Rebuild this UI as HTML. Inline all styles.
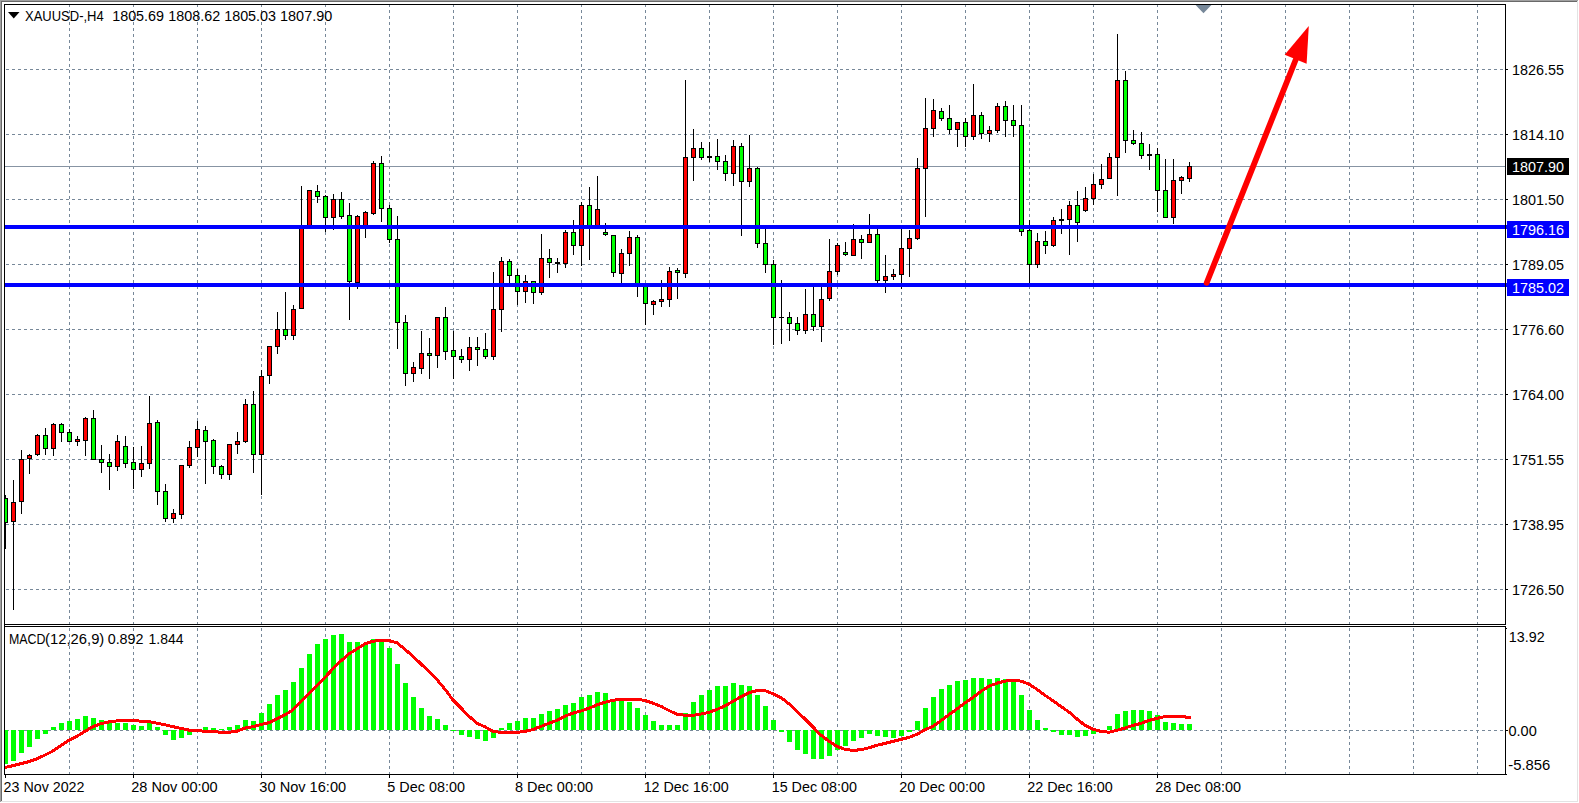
<!DOCTYPE html><html><head><meta charset="utf-8"><title>XAUUSD H4</title>
<style>html,body{margin:0;padding:0;background:#fff;overflow:hidden}svg{display:block}text{font-family:"Liberation Sans",sans-serif;font-size:14px;fill:#000}</style></head><body>
<svg width="1579" height="803" viewBox="0 0 1579 803">
<rect x="0" y="0" width="1579" height="803" fill="#fff"/>
<g shape-rendering="crispEdges">
<rect x="1577" y="1" width="1" height="801" fill="#e3e3e3"/><rect x="1" y="801" width="1577" height="1" fill="#e3e3e3"/>
<rect x="0" y="0" width="1578" height="1" fill="#a0a0a0"/><rect x="1" y="1" width="1576" height="1" fill="#696969"/>
<rect x="0" y="0" width="1" height="802" fill="#a0a0a0"/><rect x="1" y="1" width="1" height="800" fill="#696969"/>
<line x1="69.5" y1="4" x2="69.5" y2="774" stroke="#778899" stroke-width="1" stroke-dasharray="3,3"/>
<line x1="133.5" y1="4" x2="133.5" y2="774" stroke="#778899" stroke-width="1" stroke-dasharray="3,3"/>
<line x1="197.5" y1="4" x2="197.5" y2="774" stroke="#778899" stroke-width="1" stroke-dasharray="3,3"/>
<line x1="261.5" y1="4" x2="261.5" y2="774" stroke="#778899" stroke-width="1" stroke-dasharray="3,3"/>
<line x1="325.5" y1="4" x2="325.5" y2="774" stroke="#778899" stroke-width="1" stroke-dasharray="3,3"/>
<line x1="389.5" y1="4" x2="389.5" y2="774" stroke="#778899" stroke-width="1" stroke-dasharray="3,3"/>
<line x1="453.5" y1="4" x2="453.5" y2="774" stroke="#778899" stroke-width="1" stroke-dasharray="3,3"/>
<line x1="517.5" y1="4" x2="517.5" y2="774" stroke="#778899" stroke-width="1" stroke-dasharray="3,3"/>
<line x1="581.5" y1="4" x2="581.5" y2="774" stroke="#778899" stroke-width="1" stroke-dasharray="3,3"/>
<line x1="645.5" y1="4" x2="645.5" y2="774" stroke="#778899" stroke-width="1" stroke-dasharray="3,3"/>
<line x1="709.5" y1="4" x2="709.5" y2="774" stroke="#778899" stroke-width="1" stroke-dasharray="3,3"/>
<line x1="773.5" y1="4" x2="773.5" y2="774" stroke="#778899" stroke-width="1" stroke-dasharray="3,3"/>
<line x1="837.5" y1="4" x2="837.5" y2="774" stroke="#778899" stroke-width="1" stroke-dasharray="3,3"/>
<line x1="901.5" y1="4" x2="901.5" y2="774" stroke="#778899" stroke-width="1" stroke-dasharray="3,3"/>
<line x1="965.5" y1="4" x2="965.5" y2="774" stroke="#778899" stroke-width="1" stroke-dasharray="3,3"/>
<line x1="1029.5" y1="4" x2="1029.5" y2="774" stroke="#778899" stroke-width="1" stroke-dasharray="3,3"/>
<line x1="1093.5" y1="4" x2="1093.5" y2="774" stroke="#778899" stroke-width="1" stroke-dasharray="3,3"/>
<line x1="1157.5" y1="4" x2="1157.5" y2="774" stroke="#778899" stroke-width="1" stroke-dasharray="3,3"/>
<line x1="1221.5" y1="4" x2="1221.5" y2="774" stroke="#778899" stroke-width="1" stroke-dasharray="3,3"/>
<line x1="1285.5" y1="4" x2="1285.5" y2="774" stroke="#778899" stroke-width="1" stroke-dasharray="3,3"/>
<line x1="1349.5" y1="4" x2="1349.5" y2="774" stroke="#778899" stroke-width="1" stroke-dasharray="3,3"/>
<line x1="1413.5" y1="4" x2="1413.5" y2="774" stroke="#778899" stroke-width="1" stroke-dasharray="3,3"/>
<line x1="1477.5" y1="4" x2="1477.5" y2="774" stroke="#778899" stroke-width="1" stroke-dasharray="3,3"/>
<line x1="6" y1="69.5" x2="1505" y2="69.5" stroke="#778899" stroke-width="1" stroke-dasharray="3,3"/>
<rect x="1506" y="69" width="2" height="1" fill="#000"/>
<line x1="6" y1="134.5" x2="1505" y2="134.5" stroke="#778899" stroke-width="1" stroke-dasharray="3,3"/>
<rect x="1506" y="134" width="2" height="1" fill="#000"/>
<line x1="6" y1="199.5" x2="1505" y2="199.5" stroke="#778899" stroke-width="1" stroke-dasharray="3,3"/>
<rect x="1506" y="199" width="2" height="1" fill="#000"/>
<line x1="6" y1="264.5" x2="1505" y2="264.5" stroke="#778899" stroke-width="1" stroke-dasharray="3,3"/>
<rect x="1506" y="264" width="2" height="1" fill="#000"/>
<line x1="6" y1="329.5" x2="1505" y2="329.5" stroke="#778899" stroke-width="1" stroke-dasharray="3,3"/>
<rect x="1506" y="329" width="2" height="1" fill="#000"/>
<line x1="6" y1="394.5" x2="1505" y2="394.5" stroke="#778899" stroke-width="1" stroke-dasharray="3,3"/>
<rect x="1506" y="394" width="2" height="1" fill="#000"/>
<line x1="6" y1="459.5" x2="1505" y2="459.5" stroke="#778899" stroke-width="1" stroke-dasharray="3,3"/>
<rect x="1506" y="459" width="2" height="1" fill="#000"/>
<line x1="6" y1="524.5" x2="1505" y2="524.5" stroke="#778899" stroke-width="1" stroke-dasharray="3,3"/>
<rect x="1506" y="524" width="2" height="1" fill="#000"/>
<line x1="6" y1="589.5" x2="1505" y2="589.5" stroke="#778899" stroke-width="1" stroke-dasharray="3,3"/>
<rect x="1506" y="589" width="2" height="1" fill="#000"/>
<line x1="6" y1="730.5" x2="1505" y2="730.5" stroke="#778899" stroke-width="1" stroke-dasharray="3,3"/>
<rect x="1506" y="730" width="2" height="1" fill="#000"/>
<rect x="5" y="166" width="1500" height="1" fill="#8794a3"/>
<rect x="5" y="730" width="3" height="34" fill="#00ff00"/>
<rect x="11" y="730" width="5" height="31" fill="#00ff00"/>
<rect x="19" y="730" width="5" height="23" fill="#00ff00"/>
<rect x="27" y="730" width="5" height="17" fill="#00ff00"/>
<rect x="35" y="730" width="5" height="9" fill="#00ff00"/>
<rect x="43" y="730" width="5" height="4" fill="#00ff00"/>
<rect x="51" y="727" width="5" height="3" fill="#00ff00"/>
<rect x="59" y="723" width="5" height="7" fill="#00ff00"/>
<rect x="67" y="721" width="5" height="9" fill="#00ff00"/>
<rect x="75" y="719" width="5" height="11" fill="#00ff00"/>
<rect x="83" y="716" width="5" height="14" fill="#00ff00"/>
<rect x="91" y="718" width="5" height="12" fill="#00ff00"/>
<rect x="99" y="720" width="5" height="10" fill="#00ff00"/>
<rect x="107" y="722" width="5" height="8" fill="#00ff00"/>
<rect x="115" y="723" width="5" height="7" fill="#00ff00"/>
<rect x="123" y="723" width="5" height="7" fill="#00ff00"/>
<rect x="131" y="725" width="5" height="5" fill="#00ff00"/>
<rect x="139" y="726" width="5" height="4" fill="#00ff00"/>
<rect x="147" y="722" width="5" height="8" fill="#00ff00"/>
<rect x="155" y="727" width="5" height="3" fill="#00ff00"/>
<rect x="163" y="730" width="5" height="5" fill="#00ff00"/>
<rect x="171" y="730" width="5" height="10" fill="#00ff00"/>
<rect x="179" y="730" width="5" height="8" fill="#00ff00"/>
<rect x="187" y="730" width="5" height="5" fill="#00ff00"/>
<rect x="203" y="727" width="5" height="3" fill="#00ff00"/>
<rect x="211" y="728" width="5" height="2" fill="#00ff00"/>
<rect x="219" y="729" width="5" height="1" fill="#00ff00"/>
<rect x="227" y="727" width="5" height="3" fill="#00ff00"/>
<rect x="235" y="725" width="5" height="5" fill="#00ff00"/>
<rect x="243" y="720" width="5" height="10" fill="#00ff00"/>
<rect x="251" y="721" width="5" height="9" fill="#00ff00"/>
<rect x="259" y="713" width="5" height="17" fill="#00ff00"/>
<rect x="267" y="704" width="5" height="26" fill="#00ff00"/>
<rect x="275" y="695" width="5" height="35" fill="#00ff00"/>
<rect x="283" y="690" width="5" height="40" fill="#00ff00"/>
<rect x="291" y="682" width="5" height="48" fill="#00ff00"/>
<rect x="299" y="668" width="5" height="62" fill="#00ff00"/>
<rect x="307" y="654" width="5" height="76" fill="#00ff00"/>
<rect x="315" y="644" width="5" height="86" fill="#00ff00"/>
<rect x="323" y="639" width="5" height="91" fill="#00ff00"/>
<rect x="331" y="635" width="5" height="95" fill="#00ff00"/>
<rect x="339" y="634" width="5" height="96" fill="#00ff00"/>
<rect x="347" y="642" width="5" height="88" fill="#00ff00"/>
<rect x="355" y="642" width="5" height="88" fill="#00ff00"/>
<rect x="363" y="643" width="5" height="87" fill="#00ff00"/>
<rect x="371" y="639" width="5" height="91" fill="#00ff00"/>
<rect x="379" y="642" width="5" height="88" fill="#00ff00"/>
<rect x="387" y="648" width="5" height="82" fill="#00ff00"/>
<rect x="395" y="664" width="5" height="66" fill="#00ff00"/>
<rect x="403" y="683" width="5" height="47" fill="#00ff00"/>
<rect x="411" y="697" width="5" height="33" fill="#00ff00"/>
<rect x="419" y="708" width="5" height="22" fill="#00ff00"/>
<rect x="427" y="716" width="5" height="14" fill="#00ff00"/>
<rect x="435" y="719" width="5" height="11" fill="#00ff00"/>
<rect x="443" y="725" width="5" height="5" fill="#00ff00"/>
<rect x="451" y="730" width="5" height="1" fill="#00ff00"/>
<rect x="459" y="730" width="5" height="5" fill="#00ff00"/>
<rect x="467" y="730" width="5" height="7" fill="#00ff00"/>
<rect x="475" y="730" width="5" height="9" fill="#00ff00"/>
<rect x="483" y="730" width="5" height="11" fill="#00ff00"/>
<rect x="491" y="730" width="5" height="8" fill="#00ff00"/>
<rect x="499" y="728" width="5" height="2" fill="#00ff00"/>
<rect x="507" y="723" width="5" height="7" fill="#00ff00"/>
<rect x="515" y="721" width="5" height="9" fill="#00ff00"/>
<rect x="523" y="718" width="5" height="12" fill="#00ff00"/>
<rect x="531" y="718" width="5" height="12" fill="#00ff00"/>
<rect x="539" y="714" width="5" height="16" fill="#00ff00"/>
<rect x="547" y="711" width="5" height="19" fill="#00ff00"/>
<rect x="555" y="709" width="5" height="21" fill="#00ff00"/>
<rect x="563" y="705" width="5" height="25" fill="#00ff00"/>
<rect x="571" y="703" width="5" height="27" fill="#00ff00"/>
<rect x="579" y="697" width="5" height="33" fill="#00ff00"/>
<rect x="587" y="695" width="5" height="35" fill="#00ff00"/>
<rect x="595" y="692" width="5" height="38" fill="#00ff00"/>
<rect x="603" y="693" width="5" height="37" fill="#00ff00"/>
<rect x="611" y="700" width="5" height="30" fill="#00ff00"/>
<rect x="619" y="700" width="5" height="30" fill="#00ff00"/>
<rect x="627" y="702" width="5" height="28" fill="#00ff00"/>
<rect x="635" y="708" width="5" height="22" fill="#00ff00"/>
<rect x="643" y="715" width="5" height="15" fill="#00ff00"/>
<rect x="651" y="721" width="5" height="9" fill="#00ff00"/>
<rect x="659" y="725" width="5" height="5" fill="#00ff00"/>
<rect x="667" y="725" width="5" height="5" fill="#00ff00"/>
<rect x="675" y="725" width="5" height="5" fill="#00ff00"/>
<rect x="683" y="713" width="5" height="17" fill="#00ff00"/>
<rect x="691" y="702" width="5" height="28" fill="#00ff00"/>
<rect x="699" y="695" width="5" height="35" fill="#00ff00"/>
<rect x="707" y="690" width="5" height="40" fill="#00ff00"/>
<rect x="715" y="686" width="5" height="44" fill="#00ff00"/>
<rect x="723" y="686" width="5" height="44" fill="#00ff00"/>
<rect x="731" y="683" width="5" height="47" fill="#00ff00"/>
<rect x="739" y="685" width="5" height="45" fill="#00ff00"/>
<rect x="747" y="686" width="5" height="44" fill="#00ff00"/>
<rect x="755" y="695" width="5" height="35" fill="#00ff00"/>
<rect x="763" y="706" width="5" height="24" fill="#00ff00"/>
<rect x="771" y="720" width="5" height="10" fill="#00ff00"/>
<rect x="779" y="730" width="5" height="2" fill="#00ff00"/>
<rect x="787" y="730" width="5" height="12" fill="#00ff00"/>
<rect x="795" y="730" width="5" height="20" fill="#00ff00"/>
<rect x="803" y="730" width="5" height="24" fill="#00ff00"/>
<rect x="811" y="730" width="5" height="29" fill="#00ff00"/>
<rect x="819" y="730" width="5" height="29" fill="#00ff00"/>
<rect x="827" y="730" width="5" height="26" fill="#00ff00"/>
<rect x="835" y="730" width="5" height="20" fill="#00ff00"/>
<rect x="843" y="730" width="5" height="16" fill="#00ff00"/>
<rect x="851" y="730" width="5" height="11" fill="#00ff00"/>
<rect x="859" y="730" width="5" height="8" fill="#00ff00"/>
<rect x="867" y="730" width="5" height="4" fill="#00ff00"/>
<rect x="875" y="730" width="5" height="6" fill="#00ff00"/>
<rect x="883" y="730" width="5" height="7" fill="#00ff00"/>
<rect x="891" y="730" width="5" height="8" fill="#00ff00"/>
<rect x="899" y="730" width="5" height="6" fill="#00ff00"/>
<rect x="907" y="730" width="5" height="2" fill="#00ff00"/>
<rect x="915" y="721" width="5" height="9" fill="#00ff00"/>
<rect x="923" y="708" width="5" height="22" fill="#00ff00"/>
<rect x="931" y="697" width="5" height="33" fill="#00ff00"/>
<rect x="939" y="689" width="5" height="41" fill="#00ff00"/>
<rect x="947" y="685" width="5" height="45" fill="#00ff00"/>
<rect x="955" y="681" width="5" height="49" fill="#00ff00"/>
<rect x="963" y="680" width="5" height="50" fill="#00ff00"/>
<rect x="971" y="678" width="5" height="52" fill="#00ff00"/>
<rect x="979" y="678" width="5" height="52" fill="#00ff00"/>
<rect x="987" y="679" width="5" height="51" fill="#00ff00"/>
<rect x="995" y="678" width="5" height="52" fill="#00ff00"/>
<rect x="1003" y="679" width="5" height="51" fill="#00ff00"/>
<rect x="1011" y="681" width="5" height="49" fill="#00ff00"/>
<rect x="1019" y="695" width="5" height="35" fill="#00ff00"/>
<rect x="1027" y="710" width="5" height="20" fill="#00ff00"/>
<rect x="1035" y="720" width="5" height="10" fill="#00ff00"/>
<rect x="1043" y="728" width="5" height="2" fill="#00ff00"/>
<rect x="1051" y="730" width="5" height="2" fill="#00ff00"/>
<rect x="1059" y="730" width="5" height="5" fill="#00ff00"/>
<rect x="1067" y="730" width="5" height="5" fill="#00ff00"/>
<rect x="1075" y="730" width="5" height="7" fill="#00ff00"/>
<rect x="1083" y="730" width="5" height="6" fill="#00ff00"/>
<rect x="1091" y="730" width="5" height="4" fill="#00ff00"/>
<rect x="1107" y="726" width="5" height="4" fill="#00ff00"/>
<rect x="1115" y="714" width="5" height="16" fill="#00ff00"/>
<rect x="1123" y="711" width="5" height="19" fill="#00ff00"/>
<rect x="1131" y="710" width="5" height="20" fill="#00ff00"/>
<rect x="1139" y="710" width="5" height="20" fill="#00ff00"/>
<rect x="1147" y="711" width="5" height="19" fill="#00ff00"/>
<rect x="1155" y="715" width="5" height="15" fill="#00ff00"/>
<rect x="1163" y="722" width="5" height="8" fill="#00ff00"/>
<rect x="1171" y="723" width="5" height="7" fill="#00ff00"/>
<rect x="1179" y="724" width="5" height="6" fill="#00ff00"/>
<rect x="1187" y="724" width="5" height="6" fill="#00ff00"/>
<rect x="5" y="495" width="1" height="54" fill="#000"/>
<rect x="5" y="498" width="3" height="25" fill="#000"/>
<rect x="5" y="499" width="2" height="23" fill="#00ff00"/>
<rect x="13" y="480" width="1" height="130" fill="#000"/>
<rect x="11" y="502" width="5" height="20" fill="#000"/>
<rect x="12" y="503" width="3" height="18" fill="#ff0000"/>
<rect x="21" y="450" width="1" height="64" fill="#000"/>
<rect x="19" y="459" width="5" height="43" fill="#000"/>
<rect x="20" y="460" width="3" height="41" fill="#ff0000"/>
<rect x="29" y="454" width="1" height="20" fill="#000"/>
<rect x="27" y="455" width="5" height="4" fill="#000"/>
<rect x="28" y="456" width="3" height="2" fill="#ff0000"/>
<rect x="37" y="434" width="1" height="22" fill="#000"/>
<rect x="35" y="435" width="5" height="20" fill="#000"/>
<rect x="36" y="436" width="3" height="18" fill="#ff0000"/>
<rect x="45" y="428" width="1" height="27" fill="#000"/>
<rect x="43" y="435" width="5" height="14" fill="#000"/>
<rect x="44" y="436" width="3" height="12" fill="#00ff00"/>
<rect x="53" y="423" width="1" height="33" fill="#000"/>
<rect x="51" y="424" width="5" height="25" fill="#000"/>
<rect x="52" y="425" width="3" height="23" fill="#ff0000"/>
<rect x="61" y="423" width="1" height="19" fill="#000"/>
<rect x="59" y="424" width="5" height="9" fill="#000"/>
<rect x="60" y="425" width="3" height="7" fill="#00ff00"/>
<rect x="69" y="429" width="1" height="13" fill="#000"/>
<rect x="67" y="432" width="5" height="10" fill="#000"/>
<rect x="68" y="433" width="3" height="8" fill="#00ff00"/>
<rect x="77" y="436" width="1" height="10" fill="#000"/>
<rect x="75" y="439" width="5" height="3" fill="#000"/>
<rect x="76" y="440" width="3" height="1" fill="#ff0000"/>
<rect x="85" y="417" width="1" height="39" fill="#000"/>
<rect x="83" y="418" width="5" height="23" fill="#000"/>
<rect x="84" y="419" width="3" height="21" fill="#ff0000"/>
<rect x="93" y="410" width="1" height="50" fill="#000"/>
<rect x="91" y="418" width="5" height="42" fill="#000"/>
<rect x="92" y="419" width="3" height="40" fill="#00ff00"/>
<rect x="101" y="445" width="1" height="28" fill="#000"/>
<rect x="99" y="459" width="5" height="4" fill="#000"/>
<rect x="100" y="460" width="3" height="2" fill="#00ff00"/>
<rect x="109" y="454" width="1" height="36" fill="#000"/>
<rect x="107" y="462" width="5" height="5" fill="#000"/>
<rect x="108" y="463" width="3" height="3" fill="#00ff00"/>
<rect x="117" y="435" width="1" height="36" fill="#000"/>
<rect x="115" y="441" width="5" height="26" fill="#000"/>
<rect x="116" y="442" width="3" height="24" fill="#ff0000"/>
<rect x="125" y="436" width="1" height="32" fill="#000"/>
<rect x="123" y="446" width="5" height="18" fill="#000"/>
<rect x="124" y="447" width="3" height="16" fill="#00ff00"/>
<rect x="133" y="447" width="1" height="42" fill="#000"/>
<rect x="131" y="462" width="5" height="8" fill="#000"/>
<rect x="132" y="463" width="3" height="6" fill="#00ff00"/>
<rect x="141" y="446" width="1" height="31" fill="#000"/>
<rect x="139" y="463" width="5" height="7" fill="#000"/>
<rect x="140" y="464" width="3" height="5" fill="#ff0000"/>
<rect x="149" y="396" width="1" height="73" fill="#000"/>
<rect x="147" y="423" width="5" height="41" fill="#000"/>
<rect x="148" y="424" width="3" height="39" fill="#ff0000"/>
<rect x="157" y="420" width="1" height="85" fill="#000"/>
<rect x="155" y="422" width="5" height="70" fill="#000"/>
<rect x="156" y="423" width="3" height="68" fill="#00ff00"/>
<rect x="165" y="484" width="1" height="38" fill="#000"/>
<rect x="163" y="491" width="5" height="28" fill="#000"/>
<rect x="164" y="492" width="3" height="26" fill="#00ff00"/>
<rect x="173" y="509" width="1" height="14" fill="#000"/>
<rect x="171" y="513" width="5" height="6" fill="#000"/>
<rect x="172" y="514" width="3" height="4" fill="#ff0000"/>
<rect x="181" y="465" width="1" height="54" fill="#000"/>
<rect x="179" y="465" width="5" height="50" fill="#000"/>
<rect x="180" y="466" width="3" height="48" fill="#ff0000"/>
<rect x="189" y="441" width="1" height="27" fill="#000"/>
<rect x="187" y="447" width="5" height="19" fill="#000"/>
<rect x="188" y="448" width="3" height="17" fill="#ff0000"/>
<rect x="197" y="421" width="1" height="36" fill="#000"/>
<rect x="195" y="429" width="5" height="19" fill="#000"/>
<rect x="196" y="430" width="3" height="17" fill="#ff0000"/>
<rect x="205" y="426" width="1" height="58" fill="#000"/>
<rect x="203" y="430" width="5" height="12" fill="#000"/>
<rect x="204" y="431" width="3" height="10" fill="#00ff00"/>
<rect x="213" y="439" width="1" height="35" fill="#000"/>
<rect x="211" y="440" width="5" height="27" fill="#000"/>
<rect x="212" y="441" width="3" height="25" fill="#00ff00"/>
<rect x="221" y="465" width="1" height="14" fill="#000"/>
<rect x="219" y="466" width="5" height="9" fill="#000"/>
<rect x="220" y="467" width="3" height="7" fill="#00ff00"/>
<rect x="229" y="444" width="1" height="36" fill="#000"/>
<rect x="227" y="444" width="5" height="31" fill="#000"/>
<rect x="228" y="445" width="3" height="29" fill="#ff0000"/>
<rect x="237" y="432" width="1" height="22" fill="#000"/>
<rect x="235" y="441" width="5" height="4" fill="#000"/>
<rect x="236" y="442" width="3" height="2" fill="#ff0000"/>
<rect x="245" y="399" width="1" height="44" fill="#000"/>
<rect x="243" y="404" width="5" height="38" fill="#000"/>
<rect x="244" y="405" width="3" height="36" fill="#ff0000"/>
<rect x="253" y="391" width="1" height="82" fill="#000"/>
<rect x="251" y="404" width="5" height="51" fill="#000"/>
<rect x="252" y="405" width="3" height="49" fill="#00ff00"/>
<rect x="261" y="370" width="1" height="125" fill="#000"/>
<rect x="259" y="376" width="5" height="79" fill="#000"/>
<rect x="260" y="377" width="3" height="77" fill="#ff0000"/>
<rect x="269" y="346" width="1" height="38" fill="#000"/>
<rect x="267" y="346" width="5" height="30" fill="#000"/>
<rect x="268" y="347" width="3" height="28" fill="#ff0000"/>
<rect x="277" y="312" width="1" height="42" fill="#000"/>
<rect x="275" y="329" width="5" height="18" fill="#000"/>
<rect x="276" y="330" width="3" height="16" fill="#ff0000"/>
<rect x="285" y="292" width="1" height="48" fill="#000"/>
<rect x="283" y="329" width="5" height="7" fill="#000"/>
<rect x="284" y="330" width="3" height="5" fill="#00ff00"/>
<rect x="293" y="305" width="1" height="35" fill="#000"/>
<rect x="291" y="309" width="5" height="27" fill="#000"/>
<rect x="292" y="310" width="3" height="25" fill="#ff0000"/>
<rect x="301" y="186" width="1" height="123" fill="#000"/>
<rect x="299" y="227" width="5" height="82" fill="#000"/>
<rect x="300" y="228" width="3" height="80" fill="#ff0000"/>
<rect x="309" y="190" width="1" height="37" fill="#000"/>
<rect x="307" y="190" width="5" height="37" fill="#000"/>
<rect x="308" y="191" width="3" height="35" fill="#ff0000"/>
<rect x="317" y="185" width="1" height="18" fill="#000"/>
<rect x="315" y="191" width="5" height="6" fill="#000"/>
<rect x="316" y="192" width="3" height="4" fill="#00ff00"/>
<rect x="325" y="195" width="1" height="37" fill="#000"/>
<rect x="323" y="196" width="5" height="22" fill="#000"/>
<rect x="324" y="197" width="3" height="20" fill="#00ff00"/>
<rect x="333" y="194" width="1" height="36" fill="#000"/>
<rect x="331" y="199" width="5" height="19" fill="#000"/>
<rect x="332" y="200" width="3" height="17" fill="#ff0000"/>
<rect x="341" y="192" width="1" height="27" fill="#000"/>
<rect x="339" y="199" width="5" height="18" fill="#000"/>
<rect x="340" y="200" width="3" height="16" fill="#00ff00"/>
<rect x="349" y="203" width="1" height="117" fill="#000"/>
<rect x="347" y="215" width="5" height="67" fill="#000"/>
<rect x="348" y="216" width="3" height="65" fill="#00ff00"/>
<rect x="357" y="215" width="1" height="74" fill="#000"/>
<rect x="355" y="216" width="5" height="67" fill="#000"/>
<rect x="356" y="217" width="3" height="65" fill="#ff0000"/>
<rect x="365" y="211" width="1" height="27" fill="#000"/>
<rect x="363" y="212" width="5" height="15" fill="#000"/>
<rect x="364" y="213" width="3" height="13" fill="#ff0000"/>
<rect x="373" y="161" width="1" height="54" fill="#000"/>
<rect x="371" y="163" width="5" height="51" fill="#000"/>
<rect x="372" y="164" width="3" height="49" fill="#ff0000"/>
<rect x="381" y="156" width="1" height="66" fill="#000"/>
<rect x="379" y="163" width="5" height="46" fill="#000"/>
<rect x="380" y="164" width="3" height="44" fill="#00ff00"/>
<rect x="389" y="205" width="1" height="38" fill="#000"/>
<rect x="387" y="208" width="5" height="32" fill="#000"/>
<rect x="388" y="209" width="3" height="30" fill="#00ff00"/>
<rect x="397" y="216" width="1" height="133" fill="#000"/>
<rect x="395" y="239" width="5" height="84" fill="#000"/>
<rect x="396" y="240" width="3" height="82" fill="#00ff00"/>
<rect x="405" y="315" width="1" height="71" fill="#000"/>
<rect x="403" y="322" width="5" height="52" fill="#000"/>
<rect x="404" y="323" width="3" height="50" fill="#00ff00"/>
<rect x="413" y="362" width="1" height="20" fill="#000"/>
<rect x="411" y="367" width="5" height="7" fill="#000"/>
<rect x="412" y="368" width="3" height="5" fill="#ff0000"/>
<rect x="421" y="331" width="1" height="43" fill="#000"/>
<rect x="419" y="353" width="5" height="16" fill="#000"/>
<rect x="420" y="354" width="3" height="14" fill="#ff0000"/>
<rect x="429" y="338" width="1" height="41" fill="#000"/>
<rect x="427" y="353" width="5" height="3" fill="#000"/>
<rect x="428" y="354" width="3" height="1" fill="#00ff00"/>
<rect x="437" y="317" width="1" height="51" fill="#000"/>
<rect x="435" y="317" width="5" height="39" fill="#000"/>
<rect x="436" y="318" width="3" height="37" fill="#ff0000"/>
<rect x="445" y="307" width="1" height="53" fill="#000"/>
<rect x="443" y="317" width="5" height="35" fill="#000"/>
<rect x="444" y="318" width="3" height="33" fill="#00ff00"/>
<rect x="453" y="331" width="1" height="48" fill="#000"/>
<rect x="451" y="350" width="5" height="7" fill="#000"/>
<rect x="452" y="351" width="3" height="5" fill="#00ff00"/>
<rect x="461" y="349" width="1" height="14" fill="#000"/>
<rect x="459" y="356" width="5" height="4" fill="#000"/>
<rect x="460" y="357" width="3" height="2" fill="#00ff00"/>
<rect x="469" y="337" width="1" height="34" fill="#000"/>
<rect x="467" y="347" width="5" height="13" fill="#000"/>
<rect x="468" y="348" width="3" height="11" fill="#ff0000"/>
<rect x="477" y="337" width="1" height="29" fill="#000"/>
<rect x="475" y="347" width="5" height="3" fill="#000"/>
<rect x="476" y="348" width="3" height="1" fill="#00ff00"/>
<rect x="485" y="333" width="1" height="26" fill="#000"/>
<rect x="483" y="349" width="5" height="8" fill="#000"/>
<rect x="484" y="350" width="3" height="6" fill="#00ff00"/>
<rect x="493" y="272" width="1" height="88" fill="#000"/>
<rect x="491" y="309" width="5" height="48" fill="#000"/>
<rect x="492" y="310" width="3" height="46" fill="#ff0000"/>
<rect x="501" y="257" width="1" height="75" fill="#000"/>
<rect x="499" y="261" width="5" height="49" fill="#000"/>
<rect x="500" y="262" width="3" height="47" fill="#ff0000"/>
<rect x="509" y="259" width="1" height="26" fill="#000"/>
<rect x="507" y="261" width="5" height="15" fill="#000"/>
<rect x="508" y="262" width="3" height="13" fill="#00ff00"/>
<rect x="517" y="269" width="1" height="36" fill="#000"/>
<rect x="515" y="275" width="5" height="17" fill="#000"/>
<rect x="516" y="276" width="3" height="15" fill="#00ff00"/>
<rect x="525" y="275" width="1" height="28" fill="#000"/>
<rect x="523" y="281" width="5" height="11" fill="#000"/>
<rect x="524" y="282" width="3" height="9" fill="#ff0000"/>
<rect x="533" y="281" width="1" height="23" fill="#000"/>
<rect x="531" y="281" width="5" height="12" fill="#000"/>
<rect x="532" y="282" width="3" height="10" fill="#00ff00"/>
<rect x="541" y="234" width="1" height="61" fill="#000"/>
<rect x="539" y="258" width="5" height="35" fill="#000"/>
<rect x="540" y="259" width="3" height="33" fill="#ff0000"/>
<rect x="549" y="249" width="1" height="29" fill="#000"/>
<rect x="547" y="258" width="5" height="5" fill="#000"/>
<rect x="548" y="259" width="3" height="3" fill="#00ff00"/>
<rect x="557" y="258" width="1" height="15" fill="#000"/>
<rect x="555" y="262" width="5" height="2" fill="#000"/>
<rect x="565" y="230" width="1" height="38" fill="#000"/>
<rect x="563" y="232" width="5" height="32" fill="#000"/>
<rect x="564" y="233" width="3" height="30" fill="#ff0000"/>
<rect x="573" y="220" width="1" height="35" fill="#000"/>
<rect x="571" y="232" width="5" height="14" fill="#000"/>
<rect x="572" y="233" width="3" height="12" fill="#00ff00"/>
<rect x="581" y="202" width="1" height="64" fill="#000"/>
<rect x="579" y="205" width="5" height="41" fill="#000"/>
<rect x="580" y="206" width="3" height="39" fill="#ff0000"/>
<rect x="589" y="187" width="1" height="73" fill="#000"/>
<rect x="587" y="205" width="5" height="22" fill="#000"/>
<rect x="588" y="206" width="3" height="20" fill="#00ff00"/>
<rect x="597" y="176" width="1" height="51" fill="#000"/>
<rect x="595" y="209" width="5" height="18" fill="#000"/>
<rect x="596" y="210" width="3" height="16" fill="#ff0000"/>
<rect x="605" y="223" width="1" height="13" fill="#000"/>
<rect x="603" y="232" width="5" height="3" fill="#000"/>
<rect x="604" y="233" width="3" height="1" fill="#00ff00"/>
<rect x="613" y="235" width="1" height="42" fill="#000"/>
<rect x="611" y="235" width="5" height="38" fill="#000"/>
<rect x="612" y="236" width="3" height="36" fill="#00ff00"/>
<rect x="621" y="249" width="1" height="36" fill="#000"/>
<rect x="619" y="253" width="5" height="21" fill="#000"/>
<rect x="620" y="254" width="3" height="19" fill="#ff0000"/>
<rect x="629" y="231" width="1" height="35" fill="#000"/>
<rect x="627" y="237" width="5" height="17" fill="#000"/>
<rect x="628" y="238" width="3" height="15" fill="#ff0000"/>
<rect x="637" y="235" width="1" height="62" fill="#000"/>
<rect x="635" y="237" width="5" height="48" fill="#000"/>
<rect x="636" y="238" width="3" height="46" fill="#00ff00"/>
<rect x="645" y="284" width="1" height="41" fill="#000"/>
<rect x="643" y="284" width="5" height="20" fill="#000"/>
<rect x="644" y="285" width="3" height="18" fill="#00ff00"/>
<rect x="653" y="300" width="1" height="15" fill="#000"/>
<rect x="651" y="301" width="5" height="4" fill="#000"/>
<rect x="652" y="302" width="3" height="2" fill="#ff0000"/>
<rect x="661" y="280" width="1" height="27" fill="#000"/>
<rect x="659" y="299" width="5" height="3" fill="#000"/>
<rect x="660" y="300" width="3" height="1" fill="#ff0000"/>
<rect x="669" y="267" width="1" height="40" fill="#000"/>
<rect x="667" y="271" width="5" height="29" fill="#000"/>
<rect x="668" y="272" width="3" height="27" fill="#ff0000"/>
<rect x="677" y="268" width="1" height="31" fill="#000"/>
<rect x="675" y="270" width="5" height="3" fill="#000"/>
<rect x="676" y="271" width="3" height="1" fill="#00ff00"/>
<rect x="685" y="80" width="1" height="198" fill="#000"/>
<rect x="683" y="157" width="5" height="117" fill="#000"/>
<rect x="684" y="158" width="3" height="115" fill="#ff0000"/>
<rect x="693" y="129" width="1" height="52" fill="#000"/>
<rect x="691" y="148" width="5" height="10" fill="#000"/>
<rect x="692" y="149" width="3" height="8" fill="#ff0000"/>
<rect x="701" y="142" width="1" height="18" fill="#000"/>
<rect x="699" y="148" width="5" height="10" fill="#000"/>
<rect x="700" y="149" width="3" height="8" fill="#00ff00"/>
<rect x="709" y="142" width="1" height="20" fill="#000"/>
<rect x="707" y="156" width="5" height="2" fill="#000"/>
<rect x="717" y="139" width="1" height="31" fill="#000"/>
<rect x="715" y="156" width="5" height="6" fill="#000"/>
<rect x="716" y="157" width="3" height="4" fill="#00ff00"/>
<rect x="725" y="155" width="1" height="26" fill="#000"/>
<rect x="723" y="161" width="5" height="13" fill="#000"/>
<rect x="724" y="162" width="3" height="11" fill="#00ff00"/>
<rect x="733" y="140" width="1" height="46" fill="#000"/>
<rect x="731" y="146" width="5" height="28" fill="#000"/>
<rect x="732" y="147" width="3" height="26" fill="#ff0000"/>
<rect x="741" y="143" width="1" height="93" fill="#000"/>
<rect x="739" y="146" width="5" height="36" fill="#000"/>
<rect x="740" y="147" width="3" height="34" fill="#00ff00"/>
<rect x="749" y="135" width="1" height="52" fill="#000"/>
<rect x="747" y="168" width="5" height="14" fill="#000"/>
<rect x="748" y="169" width="3" height="12" fill="#ff0000"/>
<rect x="757" y="167" width="1" height="81" fill="#000"/>
<rect x="755" y="168" width="5" height="76" fill="#000"/>
<rect x="756" y="169" width="3" height="74" fill="#00ff00"/>
<rect x="765" y="227" width="1" height="46" fill="#000"/>
<rect x="763" y="243" width="5" height="22" fill="#000"/>
<rect x="764" y="244" width="3" height="20" fill="#00ff00"/>
<rect x="773" y="260" width="1" height="85" fill="#000"/>
<rect x="771" y="264" width="5" height="54" fill="#000"/>
<rect x="772" y="265" width="3" height="52" fill="#00ff00"/>
<rect x="781" y="280" width="1" height="64" fill="#000"/>
<rect x="779" y="317" width="5" height="1" fill="#000"/>
<rect x="789" y="312" width="1" height="29" fill="#000"/>
<rect x="787" y="317" width="5" height="7" fill="#000"/>
<rect x="788" y="318" width="3" height="5" fill="#00ff00"/>
<rect x="797" y="317" width="1" height="18" fill="#000"/>
<rect x="795" y="323" width="5" height="8" fill="#000"/>
<rect x="796" y="324" width="3" height="6" fill="#00ff00"/>
<rect x="805" y="289" width="1" height="45" fill="#000"/>
<rect x="803" y="314" width="5" height="17" fill="#000"/>
<rect x="804" y="315" width="3" height="15" fill="#ff0000"/>
<rect x="813" y="285" width="1" height="46" fill="#000"/>
<rect x="811" y="314" width="5" height="13" fill="#000"/>
<rect x="812" y="315" width="3" height="11" fill="#00ff00"/>
<rect x="821" y="285" width="1" height="57" fill="#000"/>
<rect x="819" y="299" width="5" height="28" fill="#000"/>
<rect x="820" y="300" width="3" height="26" fill="#ff0000"/>
<rect x="829" y="239" width="1" height="62" fill="#000"/>
<rect x="827" y="271" width="5" height="28" fill="#000"/>
<rect x="828" y="272" width="3" height="26" fill="#ff0000"/>
<rect x="837" y="243" width="1" height="32" fill="#000"/>
<rect x="835" y="245" width="5" height="27" fill="#000"/>
<rect x="836" y="246" width="3" height="25" fill="#ff0000"/>
<rect x="845" y="242" width="1" height="14" fill="#000"/>
<rect x="843" y="252" width="5" height="3" fill="#000"/>
<rect x="844" y="253" width="3" height="1" fill="#00ff00"/>
<rect x="853" y="224" width="1" height="32" fill="#000"/>
<rect x="851" y="239" width="5" height="17" fill="#000"/>
<rect x="852" y="240" width="3" height="15" fill="#ff0000"/>
<rect x="861" y="235" width="1" height="24" fill="#000"/>
<rect x="859" y="239" width="5" height="4" fill="#000"/>
<rect x="860" y="240" width="3" height="2" fill="#00ff00"/>
<rect x="869" y="214" width="1" height="29" fill="#000"/>
<rect x="867" y="234" width="5" height="9" fill="#000"/>
<rect x="868" y="235" width="3" height="7" fill="#ff0000"/>
<rect x="877" y="227" width="1" height="58" fill="#000"/>
<rect x="875" y="234" width="5" height="47" fill="#000"/>
<rect x="876" y="235" width="3" height="45" fill="#00ff00"/>
<rect x="885" y="255" width="1" height="38" fill="#000"/>
<rect x="883" y="276" width="5" height="5" fill="#000"/>
<rect x="884" y="277" width="3" height="3" fill="#ff0000"/>
<rect x="893" y="269" width="1" height="11" fill="#000"/>
<rect x="891" y="274" width="5" height="3" fill="#000"/>
<rect x="892" y="275" width="3" height="1" fill="#ff0000"/>
<rect x="901" y="227" width="1" height="62" fill="#000"/>
<rect x="899" y="248" width="5" height="27" fill="#000"/>
<rect x="900" y="249" width="3" height="25" fill="#ff0000"/>
<rect x="909" y="230" width="1" height="47" fill="#000"/>
<rect x="907" y="238" width="5" height="11" fill="#000"/>
<rect x="908" y="239" width="3" height="9" fill="#ff0000"/>
<rect x="917" y="158" width="1" height="82" fill="#000"/>
<rect x="915" y="168" width="5" height="71" fill="#000"/>
<rect x="916" y="169" width="3" height="69" fill="#ff0000"/>
<rect x="925" y="98" width="1" height="119" fill="#000"/>
<rect x="923" y="128" width="5" height="41" fill="#000"/>
<rect x="924" y="129" width="3" height="39" fill="#ff0000"/>
<rect x="933" y="99" width="1" height="38" fill="#000"/>
<rect x="931" y="110" width="5" height="19" fill="#000"/>
<rect x="932" y="111" width="3" height="17" fill="#ff0000"/>
<rect x="941" y="108" width="1" height="13" fill="#000"/>
<rect x="939" y="111" width="5" height="8" fill="#000"/>
<rect x="940" y="112" width="3" height="6" fill="#00ff00"/>
<rect x="949" y="105" width="1" height="29" fill="#000"/>
<rect x="947" y="118" width="5" height="12" fill="#000"/>
<rect x="948" y="119" width="3" height="10" fill="#00ff00"/>
<rect x="957" y="122" width="1" height="25" fill="#000"/>
<rect x="955" y="122" width="5" height="8" fill="#000"/>
<rect x="956" y="123" width="3" height="6" fill="#ff0000"/>
<rect x="965" y="118" width="1" height="29" fill="#000"/>
<rect x="963" y="122" width="5" height="15" fill="#000"/>
<rect x="964" y="123" width="3" height="13" fill="#00ff00"/>
<rect x="973" y="84" width="1" height="56" fill="#000"/>
<rect x="971" y="115" width="5" height="22" fill="#000"/>
<rect x="972" y="116" width="3" height="20" fill="#ff0000"/>
<rect x="981" y="112" width="1" height="27" fill="#000"/>
<rect x="979" y="115" width="5" height="19" fill="#000"/>
<rect x="980" y="116" width="3" height="17" fill="#00ff00"/>
<rect x="989" y="126" width="1" height="16" fill="#000"/>
<rect x="987" y="130" width="5" height="4" fill="#000"/>
<rect x="988" y="131" width="3" height="2" fill="#ff0000"/>
<rect x="997" y="103" width="1" height="30" fill="#000"/>
<rect x="995" y="106" width="5" height="25" fill="#000"/>
<rect x="996" y="107" width="3" height="23" fill="#ff0000"/>
<rect x="1005" y="101" width="1" height="36" fill="#000"/>
<rect x="1003" y="106" width="5" height="15" fill="#000"/>
<rect x="1004" y="107" width="3" height="13" fill="#00ff00"/>
<rect x="1013" y="105" width="1" height="32" fill="#000"/>
<rect x="1011" y="120" width="5" height="6" fill="#000"/>
<rect x="1012" y="121" width="3" height="4" fill="#00ff00"/>
<rect x="1021" y="105" width="1" height="131" fill="#000"/>
<rect x="1019" y="125" width="5" height="107" fill="#000"/>
<rect x="1020" y="126" width="3" height="105" fill="#00ff00"/>
<rect x="1029" y="220" width="1" height="65" fill="#000"/>
<rect x="1027" y="230" width="5" height="35" fill="#000"/>
<rect x="1028" y="231" width="3" height="33" fill="#00ff00"/>
<rect x="1037" y="233" width="1" height="35" fill="#000"/>
<rect x="1035" y="241" width="5" height="24" fill="#000"/>
<rect x="1036" y="242" width="3" height="22" fill="#ff0000"/>
<rect x="1045" y="231" width="1" height="23" fill="#000"/>
<rect x="1043" y="241" width="5" height="5" fill="#000"/>
<rect x="1044" y="242" width="3" height="3" fill="#00ff00"/>
<rect x="1053" y="217" width="1" height="30" fill="#000"/>
<rect x="1051" y="220" width="5" height="26" fill="#000"/>
<rect x="1052" y="221" width="3" height="24" fill="#ff0000"/>
<rect x="1061" y="209" width="1" height="25" fill="#000"/>
<rect x="1059" y="219" width="5" height="2" fill="#000"/>
<rect x="1069" y="201" width="1" height="54" fill="#000"/>
<rect x="1067" y="205" width="5" height="15" fill="#000"/>
<rect x="1068" y="206" width="3" height="13" fill="#ff0000"/>
<rect x="1077" y="191" width="1" height="51" fill="#000"/>
<rect x="1075" y="205" width="5" height="18" fill="#000"/>
<rect x="1076" y="206" width="3" height="16" fill="#00ff00"/>
<rect x="1085" y="187" width="1" height="25" fill="#000"/>
<rect x="1083" y="198" width="5" height="13" fill="#000"/>
<rect x="1084" y="199" width="3" height="11" fill="#ff0000"/>
<rect x="1093" y="174" width="1" height="31" fill="#000"/>
<rect x="1091" y="184" width="5" height="15" fill="#000"/>
<rect x="1092" y="185" width="3" height="13" fill="#ff0000"/>
<rect x="1101" y="164" width="1" height="25" fill="#000"/>
<rect x="1099" y="179" width="5" height="6" fill="#000"/>
<rect x="1100" y="180" width="3" height="4" fill="#ff0000"/>
<rect x="1109" y="153" width="1" height="26" fill="#000"/>
<rect x="1107" y="157" width="5" height="22" fill="#000"/>
<rect x="1108" y="158" width="3" height="20" fill="#ff0000"/>
<rect x="1117" y="34" width="1" height="162" fill="#000"/>
<rect x="1115" y="80" width="5" height="78" fill="#000"/>
<rect x="1116" y="81" width="3" height="76" fill="#ff0000"/>
<rect x="1125" y="71" width="1" height="82" fill="#000"/>
<rect x="1123" y="80" width="5" height="61" fill="#000"/>
<rect x="1124" y="81" width="3" height="59" fill="#00ff00"/>
<rect x="1133" y="130" width="1" height="15" fill="#000"/>
<rect x="1131" y="140" width="5" height="4" fill="#000"/>
<rect x="1132" y="141" width="3" height="2" fill="#00ff00"/>
<rect x="1141" y="132" width="1" height="27" fill="#000"/>
<rect x="1139" y="143" width="5" height="13" fill="#000"/>
<rect x="1140" y="144" width="3" height="11" fill="#00ff00"/>
<rect x="1149" y="144" width="1" height="26" fill="#000"/>
<rect x="1147" y="154" width="5" height="2" fill="#000"/>
<rect x="1157" y="148" width="1" height="64" fill="#000"/>
<rect x="1155" y="154" width="5" height="37" fill="#000"/>
<rect x="1156" y="155" width="3" height="35" fill="#00ff00"/>
<rect x="1165" y="159" width="1" height="59" fill="#000"/>
<rect x="1163" y="190" width="5" height="28" fill="#000"/>
<rect x="1164" y="191" width="3" height="26" fill="#00ff00"/>
<rect x="1173" y="159" width="1" height="65" fill="#000"/>
<rect x="1171" y="180" width="5" height="38" fill="#000"/>
<rect x="1172" y="181" width="3" height="36" fill="#ff0000"/>
<rect x="1181" y="176" width="1" height="18" fill="#000"/>
<rect x="1179" y="177" width="5" height="4" fill="#000"/>
<rect x="1180" y="178" width="3" height="2" fill="#ff0000"/>
<rect x="1189" y="162" width="1" height="20" fill="#000"/>
<rect x="1187" y="166" width="5" height="13" fill="#000"/>
<rect x="1188" y="167" width="3" height="11" fill="#ff0000"/>
<polyline points="5,767.5 13,765.7 21,763.6 29,761.6 37,758.8 45,755.0 53,751.0 61,745.4 69,740.3 77,736.3 85,731.2 93,726.7 101,723.6 109,721.9 117,720.9 125,720.3 133,720.3 141,721.3 149,721.6 157,723.2 165,724.7 173,726.7 181,728.4 189,730.1 197,730.4 205,731.3 213,731.4 221,732.3 229,732.3 237,731.1 245,728.1 253,726.7 261,724.5 269,722.7 277,718.9 285,714.9 293,709.8 301,701.7 309,693.6 317,685.3 325,677.3 333,668.8 341,660.9 349,653.9 357,648.9 365,643.9 373,641.2 381,640.3 389,640.5 397,642.9 405,649.4 413,656.4 421,663.9 429,671.8 437,679.7 445,689.3 453,700.0 461,708.1 469,716.2 477,723.3 485,726.8 493,731.4 501,732.4 509,732.4 517,732.4 525,731.4 533,729.5 541,726.3 549,723.3 557,720.2 565,716.2 573,713.1 581,711.0 589,708.2 597,704.9 605,702.2 613,700.3 621,699.3 629,699.3 637,699.3 645,700.5 653,703.2 661,706.4 669,710.5 677,714.3 685,715.3 693,715.3 701,714.0 709,712.3 717,709.4 725,705.9 733,701.3 741,696.7 749,692.7 757,690.6 765,690.6 773,693.7 781,697.7 789,703.8 797,711.4 805,719.0 813,727.1 821,735.2 829,741.3 837,746.4 845,749.4 853,750.4 861,749.7 869,747.7 877,745.3 885,743.4 893,741.4 901,739.4 909,737.4 917,734.3 925,729.8 933,726.2 941,720.7 949,714.6 957,709.0 965,702.9 973,697.4 981,691.3 989,686.2 997,683.2 1005,681.1 1013,680.4 1021,681.1 1029,684.1 1037,689.3 1045,695.3 1053,700.7 1061,706.6 1069,712.0 1077,719.0 1085,725.4 1093,729.2 1101,731.4 1109,732.2 1117,730.3 1125,728.1 1133,725.4 1141,723.3 1149,720.4 1157,718.4 1165,716.5 1173,716.5 1181,716.5 1189,717.4 1190.5,717.4" fill="none" stroke="#ff0000" stroke-width="3" stroke-linejoin="round"/>
<rect x="5" y="225" width="1502" height="4" fill="#0000ff"/>
<rect x="5" y="283" width="1502" height="4" fill="#0000ff"/>
<rect x="4" y="4" width="1502" height="1" fill="#000"/>
<rect x="4" y="624" width="1502" height="1" fill="#000"/>
<rect x="5" y="625" width="1500" height="1" fill="#fff"/>
<rect x="4" y="626" width="1502" height="1" fill="#000"/>
<rect x="4" y="774" width="1503" height="1" fill="#000"/>
<rect x="4" y="4" width="1" height="771" fill="#000"/>
<rect x="1505" y="4" width="1" height="771" fill="#000"/>
<rect x="1505" y="625" width="1" height="1" fill="#fff"/><rect x="1506" y="628" width="1" height="1" fill="#000"/>
<rect x="5" y="775" width="1" height="3" fill="#000"/>
<rect x="133" y="775" width="1" height="3" fill="#000"/>
<rect x="261" y="775" width="1" height="3" fill="#000"/>
<rect x="389" y="775" width="1" height="3" fill="#000"/>
<rect x="517" y="775" width="1" height="3" fill="#000"/>
<rect x="645" y="775" width="1" height="3" fill="#000"/>
<rect x="773" y="775" width="1" height="3" fill="#000"/>
<rect x="901" y="775" width="1" height="3" fill="#000"/>
<rect x="1029" y="775" width="1" height="3" fill="#000"/>
<rect x="1157" y="775" width="1" height="3" fill="#000"/>
<rect x="1507" y="158" width="62" height="17" fill="#000"/>
<rect x="1507" y="221" width="62" height="17" fill="#0000ff"/>
<rect x="1507" y="279" width="62" height="17" fill="#0000ff"/>
</g>
<polygon points="1195.6,5 1211.4,5 1203.5,13.2" fill="#778899"/>
<polygon points="8,12 19.5,12 13.75,18.5" fill="#000"/>
<line x1="1206.7" y1="282.8" x2="1296" y2="59" stroke="#ff0000" stroke-width="5.8" stroke-linecap="round"/>
<polygon points="1308.8,25.9 1284.7,54.8 1306.6,63.8" fill="#ff0000"/>
<text x="24.97" y="21" textLength="78.74" lengthAdjust="spacingAndGlyphs">XAUUSD-,H4</text>
<text x="112.18" y="21" textLength="51.85" lengthAdjust="spacingAndGlyphs">1805.69</text>
<text x="168.28" y="21" textLength="51.85" lengthAdjust="spacingAndGlyphs">1808.62</text>
<text x="224.18" y="21" textLength="51.85" lengthAdjust="spacingAndGlyphs">1805.03</text>
<text x="280.07" y="21" textLength="52.16" lengthAdjust="spacingAndGlyphs">1807.90</text>
<text x="9.02" y="644" textLength="36.49" lengthAdjust="spacingAndGlyphs">MACD</text>
<text x="45.14" y="644" textLength="59.16" lengthAdjust="spacingAndGlyphs">(12,26,9)</text>
<text x="107.68" y="644" textLength="35.87" lengthAdjust="spacingAndGlyphs">0.892</text>
<text x="148.50" y="644" textLength="34.94" lengthAdjust="spacingAndGlyphs">1.844</text>
<text x="1512.07" y="75" textLength="51.95" lengthAdjust="spacingAndGlyphs">1826.55</text>
<text x="1512.07" y="140" textLength="51.95" lengthAdjust="spacingAndGlyphs">1814.10</text>
<text x="1512.07" y="205" textLength="51.95" lengthAdjust="spacingAndGlyphs">1801.50</text>
<text x="1512.07" y="270" textLength="51.95" lengthAdjust="spacingAndGlyphs">1789.05</text>
<text x="1512.07" y="335" textLength="51.95" lengthAdjust="spacingAndGlyphs">1776.60</text>
<text x="1512.07" y="400" textLength="51.95" lengthAdjust="spacingAndGlyphs">1764.00</text>
<text x="1512.07" y="465" textLength="51.95" lengthAdjust="spacingAndGlyphs">1751.55</text>
<text x="1512.07" y="530" textLength="51.95" lengthAdjust="spacingAndGlyphs">1738.95</text>
<text x="1512.07" y="595" textLength="51.95" lengthAdjust="spacingAndGlyphs">1726.50</text>
<text x="1512.07" y="172" textLength="51.95" lengthAdjust="spacingAndGlyphs" style="fill:#fff">1807.90</text>
<text x="1512.07" y="235" textLength="51.95" lengthAdjust="spacingAndGlyphs" style="fill:#fff">1796.16</text>
<text x="1512.07" y="293" textLength="51.95" lengthAdjust="spacingAndGlyphs" style="fill:#fff">1785.02</text>
<text x="1508.88" y="642" textLength="35.77" lengthAdjust="spacingAndGlyphs">13.92</text>
<text x="1508.46" y="736" textLength="28.30" lengthAdjust="spacingAndGlyphs">0.00</text>
<text x="1508.24" y="770" textLength="42.11" lengthAdjust="spacingAndGlyphs">-5.856</text>
<text x="3.58" y="792" textLength="80.93" lengthAdjust="spacingAndGlyphs">23 Nov 2022</text>
<text x="131.16" y="792" textLength="86.55" lengthAdjust="spacingAndGlyphs">28 Nov 00:00</text>
<text x="259.36" y="792" textLength="86.75" lengthAdjust="spacingAndGlyphs">30 Nov 16:00</text>
<text x="387.37" y="792" textLength="77.54" lengthAdjust="spacingAndGlyphs">5 Dec 08:00</text>
<text x="514.96" y="792" textLength="78.15" lengthAdjust="spacingAndGlyphs">8 Dec 00:00</text>
<text x="643.68" y="792" textLength="84.92" lengthAdjust="spacingAndGlyphs">12 Dec 16:00</text>
<text x="771.68" y="792" textLength="85.23" lengthAdjust="spacingAndGlyphs">15 Dec 08:00</text>
<text x="899.27" y="792" textLength="85.84" lengthAdjust="spacingAndGlyphs">20 Dec 00:00</text>
<text x="1027.17" y="792" textLength="85.53" lengthAdjust="spacingAndGlyphs">22 Dec 16:00</text>
<text x="1155.37" y="792" textLength="85.63" lengthAdjust="spacingAndGlyphs">28 Dec 08:00</text>
</svg></body></html>
